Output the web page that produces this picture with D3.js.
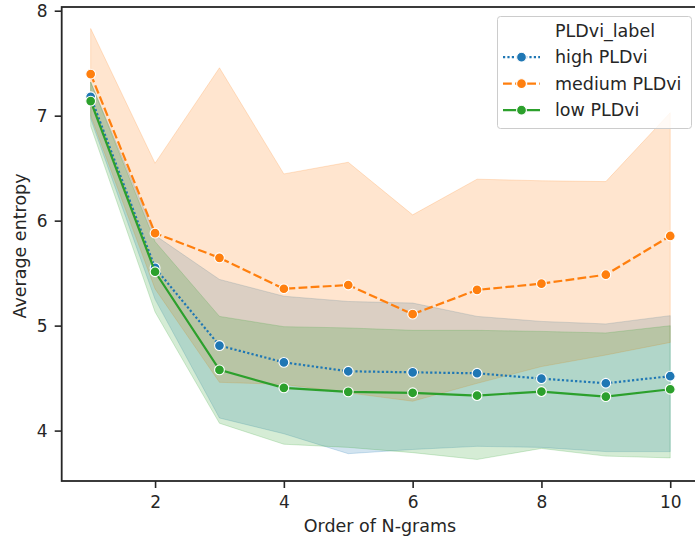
<!DOCTYPE html>
<html>
<head>
<meta charset="utf-8">
<script src="https://cdn.jsdelivr.net/npm/d3@7"></script>
<style>
	html, body { margin: 0; padding: 0; background: #fff; }
	svg { display: block; font-family: "DejaVu Sans", sans-serif; }
</style>
</head>
<body>
<div id="chart"></div>
<script>
// N-gram orders on the x axis
const ORDERS = [1, 2, 3, 4, 5, 6, 7, 8, 9, 10];

// high PLDvi: mean and confidence band
const HIGH_MEAN = [7.18, 5.55, 4.81, 4.65, 4.565, 4.555, 4.546, 4.495, 4.451, 4.518];
const HIGH_LOW = [6.97, 5.25, 4.12, 3.97, 3.78, 3.82, 3.85, 3.84, 3.8, 3.8];
const HIGH_HIGH = [7.32, 5.86, 5.44, 5.28, 5.23, 5.215, 5.088, 5.04, 5.016, 5.095];

// medium PLDvi
const MEDIUM_MEAN = [7.396, 5.881, 5.646, 5.351, 5.387, 5.109, 5.34, 5.4, 5.485, 5.854];
const MEDIUM_LOW = [7.0, 5.35, 4.46, 4.44, 4.36, 4.28, 4.45, 4.61, 4.72, 4.84];
const MEDIUM_HIGH = [7.83, 6.547, 7.456, 6.445, 6.556, 6.055, 6.395, 6.38, 6.372, 7.028];

// low PLDvi
const LOW_MEAN = [7.139, 5.513, 4.578, 4.407, 4.369, 4.36, 4.334, 4.372, 4.324, 4.394];
const LOW_LOW = [6.9, 5.13, 4.07, 3.87, 3.84, 3.79, 3.725, 3.83, 3.757, 3.74];
const LOW_HIGH = [7.32, 5.8, 5.088, 4.99, 4.978, 4.955, 4.955, 4.945, 4.93, 4.999];

const SERIES_NAMES = ["high PLDvi", "medium PLDvi", "low PLDvi"];
const X_TICKS = [2, 4, 6, 8, 10];
const Y_TICKS = [4, 5, 6, 7, 8];

const SERIES = [
	{ name: SERIES_NAMES[0], mean: HIGH_MEAN, lo: HIGH_LOW, hi: HIGH_HIGH, color: "#1f77b4", dash: "2.2,2.2" },
	{ name: SERIES_NAMES[1], mean: MEDIUM_MEAN, lo: MEDIUM_LOW, hi: MEDIUM_HIGH, color: "#ff7f0e", dash: "8.8,3.3" },
	{ name: SERIES_NAMES[2], mean: LOW_MEAN, lo: LOW_LOW, hi: LOW_HIGH, color: "#2ca02c", dash: null },
];

const WIDTH = 695;
const HEIGHT = 538;
const INK = "#262626";

// Plot area (the right spine falls just outside the picture)
const PLOT = { left: 61.7, right: 699.2, top: 7, bottom: 481 };

const svg = d3.select("#chart").append("svg")
	.attr("width", WIDTH)
	.attr("height", HEIGHT);

// x limits padded by 5% like matplotlib
const xExt = d3.extent(ORDERS);
const xPad = (xExt[1] - xExt[0]) * 0.05;
const xScale = d3.scaleLinear()
	.domain([xExt[0] - xPad, xExt[1] + xPad])
	.range([PLOT.left, PLOT.right]);

const yMin = d3.min(SERIES, (s) => d3.min(s.lo));
const yMax = d3.max(SERIES, (s) => d3.max(s.hi));
const yPad = (yMax - yMin) * 0.05;
const yScale = d3.scaleLinear()
	.domain([yMin - yPad, yMax + yPad])
	.range([PLOT.bottom, PLOT.top]);

const area = (s) => d3.area()
	.x((d, i) => xScale(ORDERS[i]))
	.y0((d, i) => yScale(s.lo[i]))
	.y1((d, i) => yScale(s.hi[i]))(s.mean);

const line = (s) => d3.line()
	.x((d, i) => xScale(ORDERS[i]))
	.y((d) => yScale(d))(s.mean);

// Confidence bands first, all under the lines
svg.append("g").selectAll("path")
	.data(SERIES)
	.enter()
	.append("path")
	.attr("d", area)
	.attr("fill", (d) => d.color)
	.attr("fill-opacity", 0.2)
	.attr("stroke", (d) => d.color)
	.attr("stroke-opacity", 0.2)
	.attr("stroke-width", 1);

const lines = svg.append("g").selectAll("g")
	.data(SERIES)
	.enter()
	.append("g");

lines.append("path")
	.attr("d", line)
	.attr("fill", "none")
	.attr("stroke", (d) => d.color)
	.attr("stroke-width", 2.2)
	.attr("stroke-dasharray", (d) => d.dash);

lines.selectAll("circle")
	.data((s) => s.mean.map((v, i) => ({ x: ORDERS[i], y: v, color: s.color })))
	.enter()
	.append("circle")
	.attr("cx", (d) => xScale(d.x))
	.attr("cy", (d) => yScale(d.y))
	.attr("r", 4.9)
	.attr("fill", (d) => d.color)
	.attr("stroke", "#fff")
	.attr("stroke-width", 1.1);

// Axes
const xAxis = svg.append("g")
	.attr("transform", `translate(0, ${PLOT.bottom})`)
	.call(d3.axisBottom(xScale).tickValues(X_TICKS).tickFormat(d3.format("d"))
		.tickSize(7).tickPadding(8).tickSizeOuter(0));

const yAxis = svg.append("g")
	.attr("transform", `translate(${PLOT.left}, 0)`)
	.call(d3.axisLeft(yScale).tickValues(Y_TICKS).tickFormat(d3.format("d"))
		.tickSize(7).tickPadding(7).tickSizeOuter(0));

[xAxis, yAxis].forEach((ax) => {
	ax.select(".domain").remove();
	ax.selectAll("line").attr("stroke", INK).attr("stroke-width", 1.6);
	ax.selectAll("text")
		.attr("fill", INK)
		.style("font-size", "17px")
		.style("font-family", "DejaVu Sans");
});

// Spines
svg.append("rect")
	.attr("x", PLOT.left)
	.attr("y", PLOT.top)
	.attr("width", PLOT.right - PLOT.left)
	.attr("height", PLOT.bottom - PLOT.top)
	.attr("fill", "none")
	.attr("stroke", INK)
	.attr("stroke-width", 1.8);

// Axis labels
svg.append("text")
	.attr("x", 380)
	.attr("y", 532)
	.attr("text-anchor", "middle")
	.attr("fill", INK)
	.style("font-size", "17.5px")
	.text("Order of N-grams");

svg.append("text")
	.attr("transform", `translate(26, 246) rotate(-90)`)
	.attr("text-anchor", "middle")
	.attr("fill", INK)
	.style("font-size", "17.5px")
	.text("Average entropy");

// Legend
const legend = svg.append("g");

legend.append("rect")
	.attr("x", 497.5)
	.attr("y", 16.5)
	.attr("width", 194)
	.attr("height", 112)
	.attr("rx", 3)
	.attr("fill", "#fff")
	.attr("fill-opacity", 0.8)
	.attr("stroke", "#cccccc")
	.attr("stroke-width", 1);

const LEGEND_ROW = 26.5;
const LEGEND_TOP = 30.7;

legend.append("text")
	.attr("x", 555)
	.attr("y", LEGEND_TOP)
	.attr("dy", "0.35em")
	.attr("fill", INK)
	.style("font-size", "17.5px")
	.text("PLDvi_label");

const entries = legend.selectAll("g.entry")
	.data(SERIES)
	.enter()
	.append("g")
	.attr("class", "entry")
	.attr("transform", (d, i) => `translate(0, ${LEGEND_TOP + LEGEND_ROW * (i + 1)})`);

entries.append("line")
	.attr("x1", 503)
	.attr("x2", 540)
	.attr("stroke", (d) => d.color)
	.attr("stroke-width", 2.2)
	.attr("stroke-dasharray", (d) => d.dash);

entries.append("circle")
	.attr("cx", 521.5)
	.attr("r", 4.9)
	.attr("fill", (d) => d.color)
	.attr("stroke", "#fff")
	.attr("stroke-width", 1.1);

entries.append("text")
	.attr("x", 555)
	.attr("dy", "0.35em")
	.attr("fill", INK)
	.style("font-size", "17.5px")
	.text((d) => d.name);
</script>
</body>
</html>
